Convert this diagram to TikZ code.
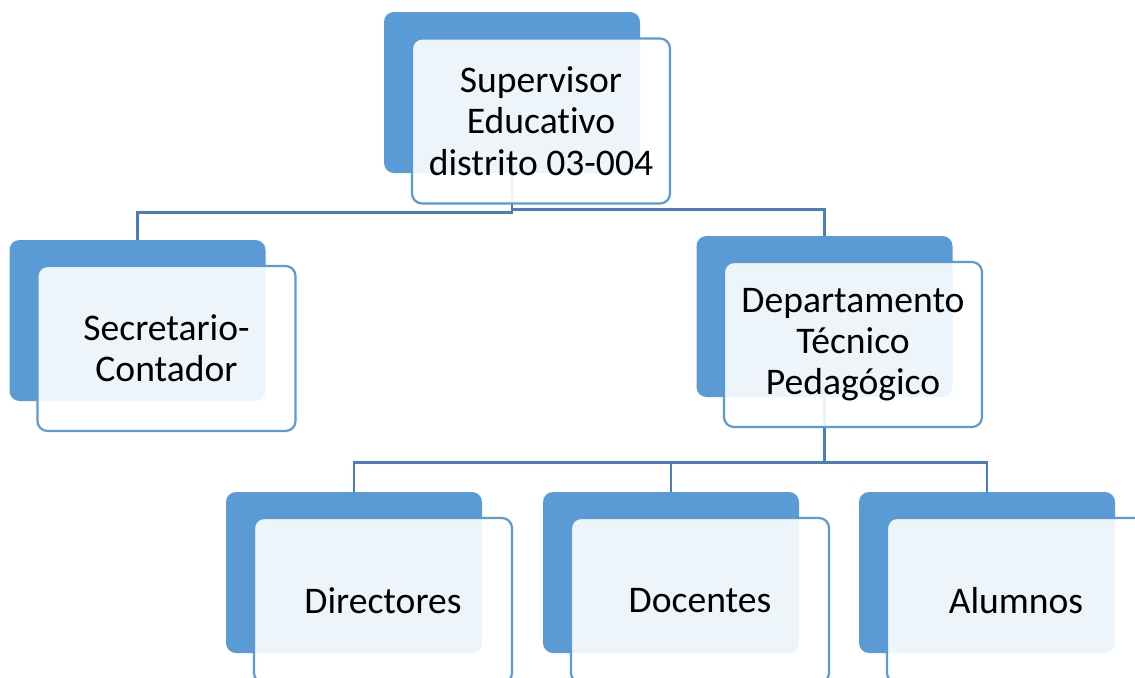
\documentclass[tikz,border=0pt]{standalone}
\usepackage{fontspec}
\setmainfont[Ligatures=NoCommon]{Carlito}
\definecolor{cajaazul}{HTML}{5B9BD5}
\definecolor{lineaazul}{HTML}{4A7EBB}
\tikzset{
  fondo/.style={rounded corners=5pt,fill=cajaazul,minimum width=128pt,minimum height=80.5pt,inner sep=0pt},
  caja/.style={rounded corners=5pt,draw=cajaazul,line width=1.1pt,fill=white,fill opacity=.9,text opacity=1,
    minimum width=129pt,minimum height=82.5pt,inner sep=0pt,align=center,font=\fontsize{18.8}{20.6}\selectfont},
  rama/.style={draw=lineaazul,line width=1.4pt}
}
\begin{document}
\begin{tikzpicture}[x=.5pt,y=-.5pt]
\useasboundingbox (0,0) rectangle (1135,677);
\node[fondo] (sup) at (512,92.5) {};
\node[fondo] (sec) at (137.5,320.5) {};
\node[fondo] (dep) at (824.5,316.5) {};
\node[fondo] (dir) at (354,572.5) {};
\node[fondo] (doc) at (671,572.5) {};
\node[fondo] (alu) at (987,572.5) {};
% conectores
\draw[rama] (sup.south) -- ++(0,39) -| (sec.north);
\draw[rama] (sup.south) -- ++(0,36) -| (dep.north);
\draw[rama] (dep.south) -- ++(0,65) -| (dir.north);
\draw[rama] (dep.south) -- ++(0,65) -| (doc.north);
\draw[rama] (dep.south) -- ++(0,65) -| (alu.north);
\node[caja] (supT) at (541,121) {Supervisor\\Educativo\\distrito 03-004};
\node[caja] (secT) at (166.5,348.5) {Secretario-\\Contador};
\node[caja] (depT) at (853,344.5) {Departamento\\Técnico\\Pedagógico};
\node[caja] (dirT) at (383,600.5) {Directores};
\node[caja] (docT) at (700,600.5) {Docentes};
\node[caja] (aluT) at (1016,600.5) {Alumnos};
\end{tikzpicture}
\end{document}
